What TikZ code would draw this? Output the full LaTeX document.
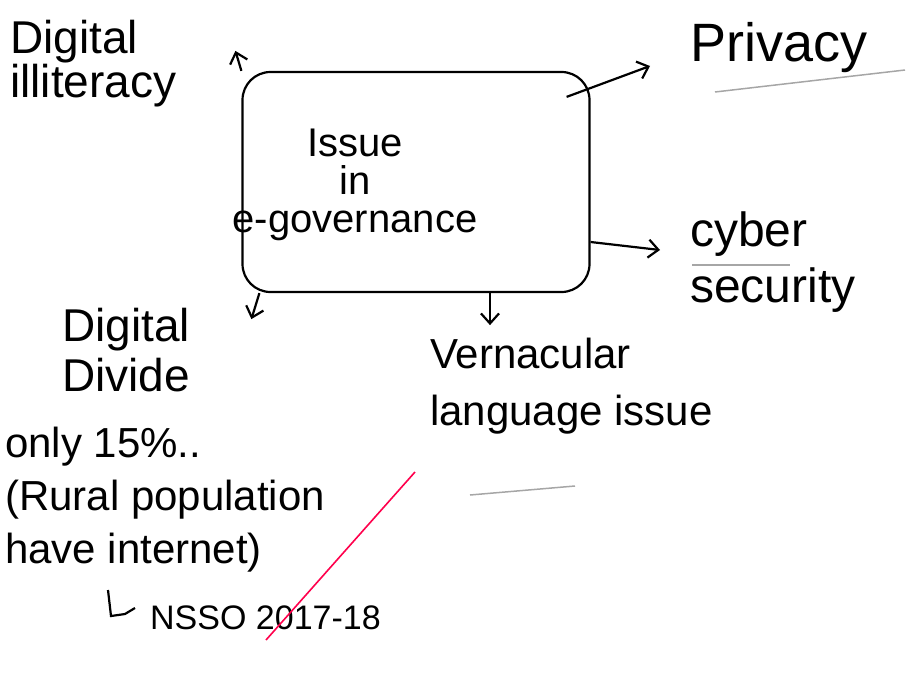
\documentclass[tikz,border=0pt]{standalone}
\usepackage{fontspec}
\setmainfont{Liberation Sans}
\usetikzlibrary{arrows.meta}

\begin{document}
\begin{tikzpicture}[x=1pt,y=-1pt]
\tikzstyle{hand}=[inner sep=0pt,align=left,anchor=west]
\tikzstyle{link}=[line width=2.2pt,-{Straight Barb[length=10pt,width=18pt]}]
\tikzstyle{faint}=[line width=1.5pt,black!35]
\useasboundingbox (0,0) rectangle (911,680);
% centre box
\node[draw,line width=2.2pt,rounded corners=28pt,minimum width=347pt,minimum height=220pt] (issue) at (416,182) {};
\node[hand,anchor=center,align=center,font=\fontsize{40}{38}\selectfont] (issuetext) at (355,185) {Issue\\in\\e-governance};
% branches
\node[hand,font=\fontsize{46}{44}\selectfont] (dill) at (10,64) {Digital\\illiteracy};
\node[hand,font=\fontsize{54}{60}\selectfont] (privacy) at (690,48) {Privacy};
\node[hand,font=\fontsize{48}{56}\selectfont] (cyber) at (690,262) {cyber\\security};
\node[hand,font=\fontsize{42}{57}\selectfont] (vern) at (430,386) {Vernacular\\language issue};
\node[hand,font=\fontsize{46}{50}\selectfont] (ddiv) at (62,350) {Digital\\Divide};
\node[hand,font=\fontsize{42}{53}\selectfont] (note) at (5,500) {only 15\%..\\(Rural population\\have internet)};
\node[hand,font=\fontsize{34}{40}\selectfont] (nsso) at (150,618) {NSSO 2017-18};
% connectors
\coordinate (pstart) at ([shift={(-24,26)}]issue.north east);
\coordinate (cstart) at ([shift={(0,60)}]issue.east);
\coordinate (vstart) at ([xshift=74pt]issue.south);
\draw[link] (issue.north west) -- ([shift={(-6,-20)}]issue.north west);
\draw[link] (pstart) -- ([shift={(-40,18)}]privacy.west);
\draw[link] (cstart) -- ([shift={(-30,-12)}]cyber.west);
\draw[link] (vstart) -- ++(0,32);
\draw[link] ([xshift=18pt]issue.south west) -- ++(-8,26);
\draw[line width=2.2pt] ([shift={(-42,-28)}]nsso.west) -- ++(3,26) -- ++(14,-2) -- ++(10,-6);
% marks on the page
\draw[faint] (715,92) -- (905,70);
\draw[faint] (692,265) -- (790,265);
\draw[faint] (470,495) -- (575,486);
\draw[line width=1.6pt,red!70!magenta] (415,472) -- (266,640);
\end{tikzpicture}
\end{document}
